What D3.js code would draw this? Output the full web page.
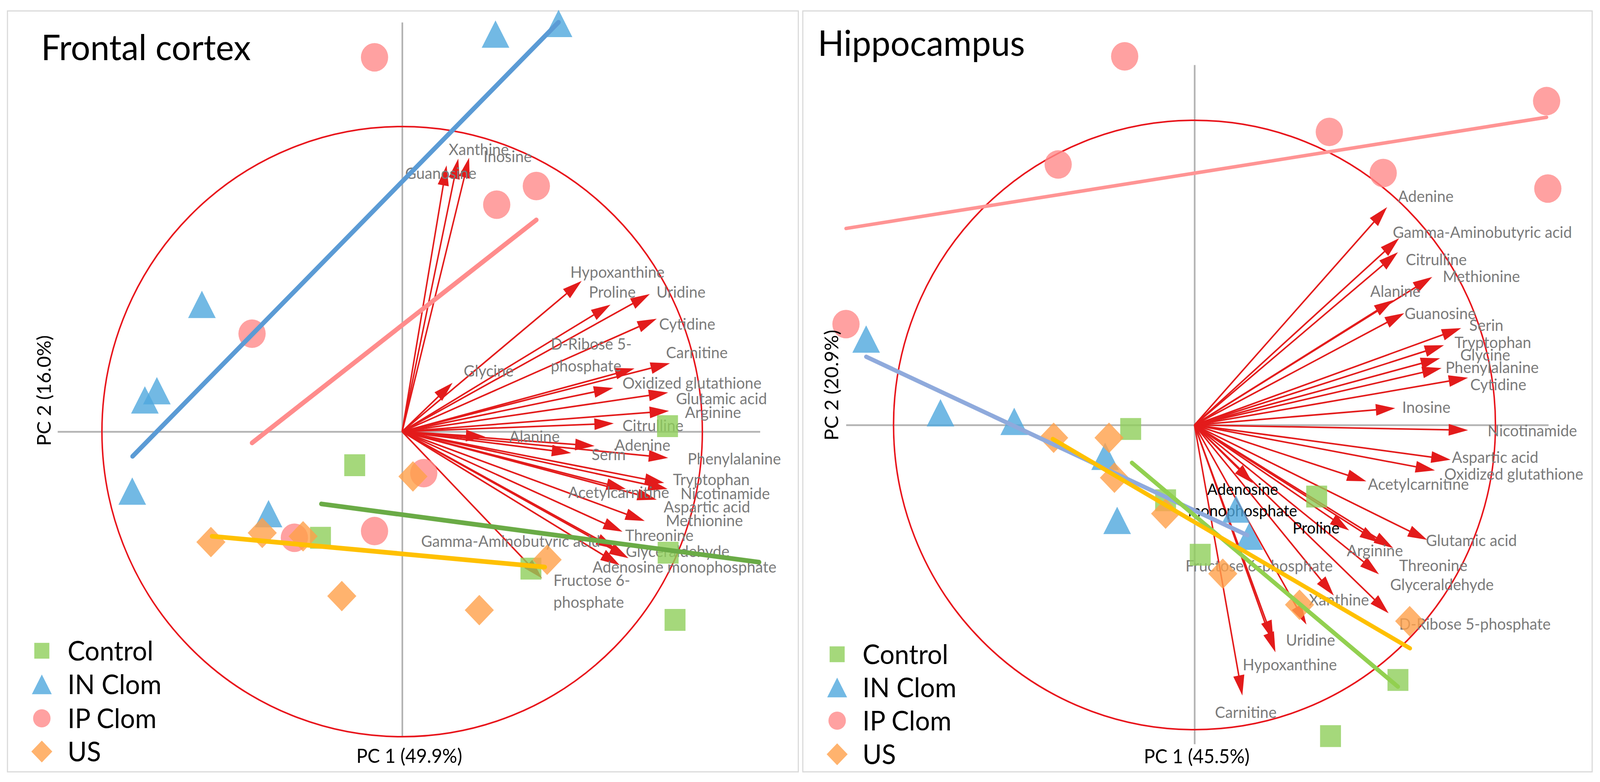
<!DOCTYPE html>
<html><head><meta charset="utf-8">
<script src="https://cdn.jsdelivr.net/npm/d3@7"></script>
<style>html,body{margin:0;padding:0;background:#fff;overflow:hidden}svg{display:block;width:100vw;height:100vh}</style>
</head><body><svg id="c" viewBox="0 0 4285 2002" preserveAspectRatio="none"></svg>
<script>
// ---------- DATA (PC scores / loadings, scaled so the correlation circle has radius 1) ----------
const groupNames = ["Control", "IN Clom", "IP Clom", "US"];

// Frontal cortex
const fcControl = [[-0.158,-0.110],[0.884,0.018],[-0.272,-0.348],[0.886,-0.397],[0.429,-0.449],[0.909,-0.617]];
const fcINClom  = [[0.311,1.303],[0.521,1.338],[-0.667,0.417],[-0.817,0.134],[-0.857,0.104],[-0.899,-0.195],[-0.445,-0.269]];
const fcIPClom  = [[-0.092,1.227],[0.447,0.805],[0.315,0.744],[-0.500,0.321],[0.072,-0.136],[-0.359,-0.348],[-0.092,-0.326]];
const fcUS      = [[-0.637,-0.362],[-0.466,-0.332],[-0.330,-0.343],[0.036,-0.147],[0.483,-0.420],[-0.201,-0.539],[0.257,-0.585]];
const fcFitControl = [[-0.269,-0.237],[1.189,-0.428]];
const fcFitIN      = [[-0.898,-0.081],[0.521,1.342]];
const fcFitIP      = [[-0.500,-0.037],[0.447,0.694]];
const fcFitUS      = [[-0.633,-0.343],[0.475,-0.444]];
const fcLoadName = ["Guanosine","Xanthine","Inosine","Hypoxanthine","Proline","Uridine","Cytidine","Glycine","D-Ribose 5-|phosphate","Carnitine","Oxidized glutathione","Glutamic acid","Arginine","Citrulline","Alanine","Adenine","Serin","Phenylalanine","Tryptophan","Nicotinamide","Acetylcarnitine","Aspartic acid","Methionine","Threonine","Gamma-Aminobutyric acid","Glyceraldehyde","Adenosine monophosphate","Fructose 6-|phosphate"];
const fcLoadX = [0.148,0.187,0.223,0.598,0.694,0.825,0.848,0.168,0.774,0.892,0.703,0.886,0.889,0.705,0.277,0.641,0.563,0.886,0.873,0.884,0.745,0.848,0.808,0.734,0.710,0.754,0.725,0.466];
const fcLoadY = [0.873,0.895,0.898,0.494,0.416,0.451,0.370,0.160,0.207,0.224,0.143,0.128,0.068,0.027,-0.017,-0.047,-0.070,-0.086,-0.168,-0.188,-0.188,-0.223,-0.293,-0.328,-0.384,-0.415,-0.438,-0.481];
const fcLabelX = [0.010,0.155,0.271,0.560,0.622,0.847,0.856,0.205,0.495,0.879,0.734,0.912,0.942,0.734,0.357,0.708,0.631,0.951,0.902,0.927,0.553,0.871,0.878,0.743,0.063,0.745,0.634,0.504];
const fcLabelY = [0.828,0.907,0.883,0.504,0.439,0.439,0.334,0.181,0.269,0.241,0.141,0.090,0.045,0.001,-0.035,-0.063,-0.093,-0.108,-0.175,-0.222,-0.218,-0.265,-0.310,-0.359,-0.378,-0.411,-0.462,-0.506];

// Hippocampus
const hcControl = [[-0.212,-0.013],[-0.096,-0.247],[0.019,-0.426],[0.406,-0.235],[0.676,-0.837],[0.452,-1.021]];
const hcINClom  = [[-1.091,0.282],[-0.844,0.040],[-0.599,0.012],[-0.297,-0.103],[-0.257,-0.313],[0.138,-0.276],[0.182,-0.365]];
const hcIPClom  = [[-0.232,1.210],[-0.453,0.855],[0.448,0.962],[0.627,0.827],[1.170,1.063],[1.174,0.776],[-1.158,0.331]];
const hcUS      = [[-0.468,-0.042],[-0.284,-0.042],[-0.266,-0.173],[-0.096,-0.291],[0.094,-0.488],[0.349,-0.590],[0.715,-0.644]];
const hcFitControl = [[-0.208,-0.124],[0.676,-0.859]];
const hcFitIN      = [[-1.091,0.224],[0.176,-0.362]];
const hcFitIP      = [[-1.158,0.645],[1.170,1.010]];
const hcFitUS      = [[-0.471,-0.046],[0.716,-0.733]];
const hcLoadName = ["Adenine","Gamma-Aminobutyric acid","Citrulline","Methionine","Alanine","Guanosine","Serin","Tryptophan","Glycine","Phenylalanine","Cytidine","Inosine","Nicotinamide","Aspartic acid","Oxidized glutathione","Acetylcarnitine","Glutamic acid","Adenosine|monophosphate","Proline","Arginine","Threonine","Glyceraldehyde","D-Ribose 5-phosphate","Xanthine","Fructose 6-phosphate","Uridine","Hypoxanthine","Carnitine"];
const hcLoadX = [0.640,0.680,0.676,0.790,0.661,0.697,0.886,0.829,0.816,0.821,0.909,0.667,0.909,0.851,0.799,0.571,0.773,0.194,0.514,0.613,0.660,0.613,0.645,0.463,0.372,0.269,0.262,0.159];
const hcLoadY = [0.715,0.613,0.567,0.486,0.410,0.367,0.318,0.262,0.219,0.187,0.155,0.055,-0.017,-0.114,-0.149,-0.185,-0.377,-0.191,-0.346,-0.386,-0.404,-0.490,-0.618,-0.560,-0.655,-0.746,-0.708,-0.888];
const hcLabelX = [0.676,0.659,0.702,0.825,0.584,0.698,0.913,0.864,0.883,0.834,0.916,0.690,0.974,0.855,0.830,0.576,0.769,0.160,0.326,0.506,0.680,0.650,0.680,0.380,-0.030,0.304,0.160,0.068];
const hcLabelY = [0.732,0.614,0.524,0.469,0.421,0.347,0.309,0.253,0.212,0.171,0.114,0.040,-0.037,-0.124,-0.179,-0.213,-0.397,-0.229,-0.356,-0.431,-0.479,-0.542,-0.672,-0.592,-0.481,-0.724,-0.805,-0.962];
const hcBlackLabels = ["Adenosine|monophosphate","Proline"];

// ---------- LAYOUT / STYLE ----------
const FONT = "Lato, 'Open Sans', sans-serif";
const markerFill = ["#8fce5a","#4fa8dd","#ff8a8a","#ffa04a"];
const markerShape = ["square","triangle","circle","diamond"];

const panels = [
  {title:"Frontal cortex", titleXY:[110,154], box:[20,28,2118,1948],
   cx:1077, cy:1105, rx:804, ry:781, xExt:[-1.148,1.192], yExt:[-1.0,1.342],
   xLabel:"PC 1 (49.9%)", xLabelXY:[1096,1953], yLabel:"PC 2 (16.0%)", yLabelXY:[136,1000],
   legend:{x:112, y:[1666,1752,1839,1924], tx:181},
   scores:[fcControl,fcINClom,fcIPClom,fcUS], fits:[fcFitControl,fcFitIN,fcFitIP,fcFitUS],
   fitColors:["#6aab46","#5b9bd5","#ff8c8c","#ffc000"], fitWidths:[12,12,12,12], fitOrder:[0,1,2,3],
   loadName:fcLoadName, loadX:fcLoadX, loadY:fcLoadY, labelX:fcLabelX, labelY:fcLabelY, black:[]},
  {title:"Hippocampus", titleXY:[2190,143], box:[2150,28,2114,1948],
   cx:3199, cy:1088, rx:806, ry:780, xExt:[-1.158,1.176], yExt:[-1.047,1.182],
   xLabel:"PC 1 (45.5%)", xLabelXY:[3205,1954], yLabel:"PC 2 (20.9%)", yLabelXY:[2245,986],
   legend:{x:2242, y:[1675,1760,1845,1931], tx:2310},
   scores:[hcControl,hcINClom,hcIPClom,hcUS], fits:[hcFitControl,hcFitIN,hcFitIP,hcFitUS],
   fitColors:["#92d050","#8faadc","#ff9494","#ffc000"], fitWidths:[11,11,9,11], fitOrder:[2,1,0,3],
   loadName:hcLoadName, loadX:hcLoadX, loadY:hcLoadY, labelX:hcLabelX, labelY:hcLabelY, black:hcBlackLabels}
];

function shapePath(type, k){
  if(type==="square"){const s=28*k; return `M${-s},${-s}H${s}V${s}H${-s}Z`;}
  if(type==="triangle"){const w=37*k,h=35*k; return `M0,${-h}L${w},${h}L${-w},${h}Z`;}
  if(type==="circle"){const r=36.5*k; return `M${r},0A${r},${r} 0 1,1 ${-r},0A${r},${r} 0 1,1 ${r},0Z`;}
  const d=39*k; return `M0,${-d}L${d},0L0,${d}L${-d},0Z`;
}

const svg = d3.select("#c");
svg.append("rect").attr("width",4285).attr("height",2002).attr("fill","#fff");

panels.forEach(P=>{
  const g = svg.append("g");
  const xs = d3.scaleLinear().domain([-1,1]).range([P.cx-P.rx, P.cx+P.rx]);
  const ys = d3.scaleLinear().domain([-1,1]).range([P.cy+P.ry, P.cy-P.ry]);

  g.append("rect").attr("x",P.box[0]).attr("y",P.box[1]).attr("width",P.box[2]).attr("height",P.box[3])
    .attr("fill","none").attr("stroke","#d9d9d9").attr("stroke-width",3);

  const xa = d3.scaleLinear().domain(P.xExt).range([xs(P.xExt[0]), xs(P.xExt[1])]);
  const ya = d3.scaleLinear().domain(P.yExt).range([ys(P.yExt[0]), ys(P.yExt[1])]);
  const gx = g.append("g").attr("transform",`translate(0,${ys(0)})`)
    .call(d3.axisBottom(xa).ticks(0).tickSizeOuter(0));
  const gy = g.append("g").attr("transform",`translate(${xs(0)},0)`)
    .call(d3.axisLeft(ya).ticks(0).tickSizeOuter(0));
  [gx,gy].forEach(a=>a.select(".domain").attr("stroke","#b3b3b3").attr("stroke-width",4.5));

  g.append("ellipse").attr("cx",xs(0)).attr("cy",ys(0))
    .attr("rx",xs(1)-xs(0)).attr("ry",ys(0)-ys(1))
    .attr("fill","none").attr("stroke","#e8141b").attr("stroke-width",4);

  const ox=xs(0), oy=ys(0);
  const HL=52, HW=15;
  const arrows = g.append("g");
  P.loadName.forEach((n,i)=>{
    const tx=xs(P.loadX[i]), ty=ys(P.loadY[i]);
    const dx=tx-ox, dy=ty-oy, L=Math.hypot(dx,dy), ux=dx/L, uy=dy/L;
    const bx=tx-ux*HL, by=ty-uy*HL;
    arrows.append("line").attr("x1",ox).attr("y1",oy).attr("x2",tx-ux*(HL-8)).attr("y2",ty-uy*(HL-8))
      .attr("stroke","#e31b1b").attr("stroke-width",4);
    arrows.append("path")
      .attr("d",`M${tx},${ty}L${bx-uy*HW},${by+ux*HW}L${bx+uy*HW},${by-ux*HW}Z`)
      .attr("fill","#e31b1b");
  });

  const labels = g.append("g").attr("font-family",FONT).attr("font-size",41);
  P.loadName.forEach((n,i)=>{
    const lines = n.split("|");
    const isBlack = P.black.includes(n);
    const centered = isBlack && lines.length>1;
    const t = labels.append("text").attr("x",xs(P.labelX[i])).attr("y",ys(P.labelY[i]))
      .attr("fill", isBlack ? "#000" : "#7b7b7b")
      .attr("text-anchor", centered ? "middle" : "start");
    lines.forEach((ln,j)=>{
      t.append("tspan").attr("x",xs(P.labelX[i])).attr("dy", j===0?0:"1.36em").text(ln);
    });
  });

  P.scores.forEach((pts,gi)=>{
    g.append("g").selectAll("path").data(pts).join("path")
      .attr("transform",d=>`translate(${xs(d[0])},${ys(d[1])})`)
      .attr("d",shapePath(markerShape[gi],1))
      .attr("fill",markerFill[gi]).attr("fill-opacity",0.8);
  });

  P.fitOrder.forEach(gi=>{
    const f=P.fits[gi];
    g.append("line").attr("x1",xs(f[0][0])).attr("y1",ys(f[0][1]))
      .attr("x2",xs(f[1][0])).attr("y2",ys(f[1][1]))
      .attr("stroke",P.fitColors[gi]).attr("stroke-width",P.fitWidths[gi]).attr("stroke-linecap","round");
  });

  g.append("text").attr("x",P.titleXY[0]).attr("y",P.titleXY[1]).attr("font-family",FONT)
    .attr("font-size",92).attr("fill","#000").text(P.title);

  g.append("text").attr("x",P.xLabelXY[0]).attr("y",P.xLabelXY[1]).attr("text-anchor","middle")
    .attr("font-family",FONT).attr("font-size",50).attr("fill","#000").text(P.xLabel);
  g.append("text").attr("transform",`translate(${P.yLabelXY[0]},${P.yLabelXY[1]}) rotate(-90)`)
    .attr("text-anchor","middle").attr("font-family",FONT).attr("font-size",50).attr("fill","#000").text(P.yLabel);

  groupNames.forEach((nm,gi)=>{
    const y=P.legend.y[gi];
    g.append("path").attr("transform",`translate(${P.legend.x},${y})`)
      .attr("d",shapePath(markerShape[gi], gi===2?0.64:0.72))
      .attr("fill",markerFill[gi]).attr("fill-opacity",0.8);
    g.append("text").attr("x",P.legend.tx).attr("y",y+25).attr("font-family",FONT)
      .attr("font-size",70).attr("fill","#000").text(nm);
  });
});
</script></body></html>
